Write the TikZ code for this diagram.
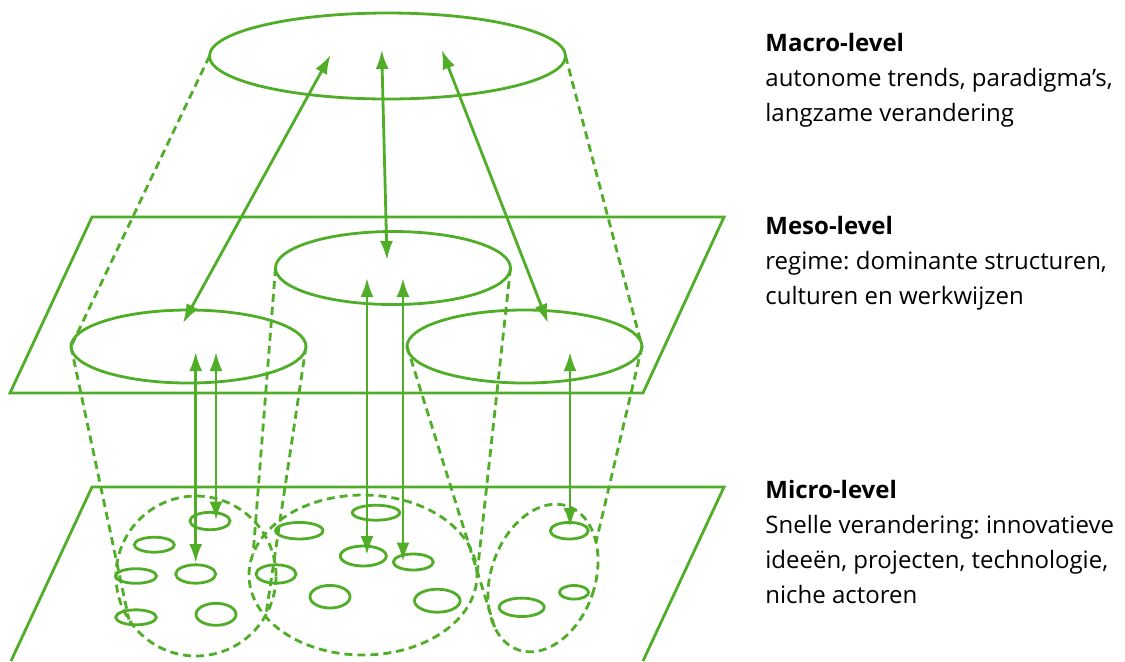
\documentclass[tikz,border=0pt]{standalone}
\usepackage{fontspec}
\setmainfont{Open Sans}
\usetikzlibrary{arrows.meta,shapes.geometric}
\definecolor{lvlgreen}{RGB}{80,173,40}
\tikzset{
  ring/.style={ellipse,draw=lvlgreen,line width=1.4pt,inner sep=0pt,outer sep=0pt},
  zone/.style={ring,dash pattern=on 4pt off 2.5pt},
  plane/.style={draw=lvlgreen,line width=1.4pt},
  proj/.style={draw=lvlgreen,line width=1.4pt,dash pattern=on 4pt off 2.5pt},
  link/.style={draw=lvlgreen,line width=1.4pt,{Latex[length=9.5pt,width=6.5pt]}-{Latex[length=9.5pt,width=6.5pt]}},
  lbl/.style={align=left,inner sep=0pt,anchor=base west,font=\fontsize{12}{17.5}\selectfont\frenchspacing},
}
\begin{document}
\begin{tikzpicture}[x=0.5pt,y=0.5pt,yscale=-1,xscale=1]
\useasboundingbox (0,0) rectangle (1125,661);

%Shape: Polygon [meso plane]
\draw [plane] (92,217) -- (724,217) -- (643,393) -- (10,393) -- cycle ;
%Shape: Polygon [micro plane]
\draw [plane] (11,661) -- (92,487) -- (724,487) -- (643,661) ;

%Shape: Ellipse [macro]
\node [ring,minimum width=178pt,minimum height=43pt] (macro) at (387.5,56) {};
%Shape: Ellipse [meso]
\node [ring,minimum width=117.5pt,minimum height=36.5pt] (mesoL) at (188.5,346.5) {};
\node [ring,minimum width=117.5pt,minimum height=36.5pt] (mesoM) at (393,268) {};
\node [ring,minimum width=117.5pt,minimum height=36.5pt] (mesoR) at (524.5,346.5) {};
%Shape: Ellipse [micro niches]
\node [zone,minimum width=80pt,minimum height=80pt] (microL) at (196,576) {};
\node [zone,minimum width=114pt,minimum height=80pt] (microM) at (363,575) {};
\node [zone,minimum width=52pt,minimum height=76pt,rotate=-19] (microR) at (543,578) {};

%Shape: Ellipse [small ones]
\draw [plane] (210,521) ellipse (20 and 8.7) ;
\draw [plane] (154.3,544.7) ellipse (20 and 7.5) ;
\draw [plane] (136,576) ellipse (20.5 and 7.3) ;
\draw [plane] (195.7,574) ellipse (20 and 9.2) ;
\draw [plane] (136,617.3) ellipse (20.3 and 7.5) ;
\draw [plane] (216,614.3) ellipse (20 and 11) ;
\draw [plane] (276,574) ellipse (20 and 9.2) ;
\draw [plane] (299.3,530.7) ellipse (23.7 and 8.3) ;
\draw [plane] (376,512.7) ellipse (23.7 and 7.5) ;
\draw [plane] (363.3,556) ellipse (23 and 10) ;
\draw [plane] (413.3,562) ellipse (20 and 8) ;
\draw [plane] (330,596.7) ellipse (20 and 11.3) ;
\draw [plane] (437.3,600.7) ellipse (22.8 and 11.5) ;
\draw [plane] (569.3,530.7) ellipse (19 and 8.3) ;
\draw [plane] (574,592.3) ellipse (14.5 and 6.8) ;
\draw [plane] (521.7,607.3) ellipse (22.5 and 9.2) ;

%Straight Lines [dashed outlines]
\draw [proj] (macro.west) -- (mesoL.west) ;
\draw [proj] (macro.east) -- (mesoR.east) ;
\draw [proj] (mesoL.west) -- (microL.213) ;
\draw [proj] (mesoL.east) -- (microL.331) ;
\draw [proj] (mesoM.west) -- (microM.169) ;
\draw [proj] (mesoM.east) -- (microM.east) ;
\draw [proj] (mesoR.west) -- (microR.245) ;
\draw [proj] (mesoR.east) -- (microR.53) ;

%Arrow ends
\coordinate (mac-l) at (330.5,55) ;
\coordinate (mac-m) at (381.7,50) ;
\coordinate (mac-r) at (441.7,50) ;
\coordinate (mes-l) at (183,323) ;
\coordinate (mes-m) at (387,260) ;
\coordinate (mes-r) at (548,323) ;
\coordinate (mes-l1) at (195.7,352) ;
\coordinate (mes-l2) at (216,352) ;
\coordinate (mes-m1) at (367,278) ;
\coordinate (mes-m2) at (403,278) ;
\coordinate (mes-r1) at (570,352) ;
\coordinate (mic-l1) at (195.7,563) ;
\coordinate (mic-l2) at (216,520.5) ;
\coordinate (mic-m1) at (367,555) ;
\coordinate (mic-m2) at (403,561.5) ;
\coordinate (mic-r1) at (570,527) ;

%Straight Lines [double arrows]
\draw [link] (mac-l) -- (mes-l) ;
\draw [link] (mac-m) -- (mes-m) ;
\draw [link] (mac-r) -- (mes-r) ;
\draw [link] (mes-l1) -- (mic-l1) ;
\draw [link] (mes-l2) -- (mic-l2) ;
\draw [link] (mes-m1) -- (mic-m1) ;
\draw [link] (mes-m2) -- (mic-m2) ;
\draw [link] (mes-r1) -- (mic-r1) ;

%Text (base = last line)
\node [lbl] (macrotxt) at (765,121) {\textbf{Macro-level}\\autonome trends, paradigma’s,\\langzame verandering};
\node [lbl] (mesotxt) at (765,304) {\textbf{Meso-level}\\regime: dominante structuren,\\culturen en werkwijzen};
\node [lbl] (microtxt) at (765,603) {\textbf{Micro-level}\\Snelle verandering: innovatieve\\ideeën, projecten, technologie,\\niche actoren};

\end{tikzpicture}
\end{document}
